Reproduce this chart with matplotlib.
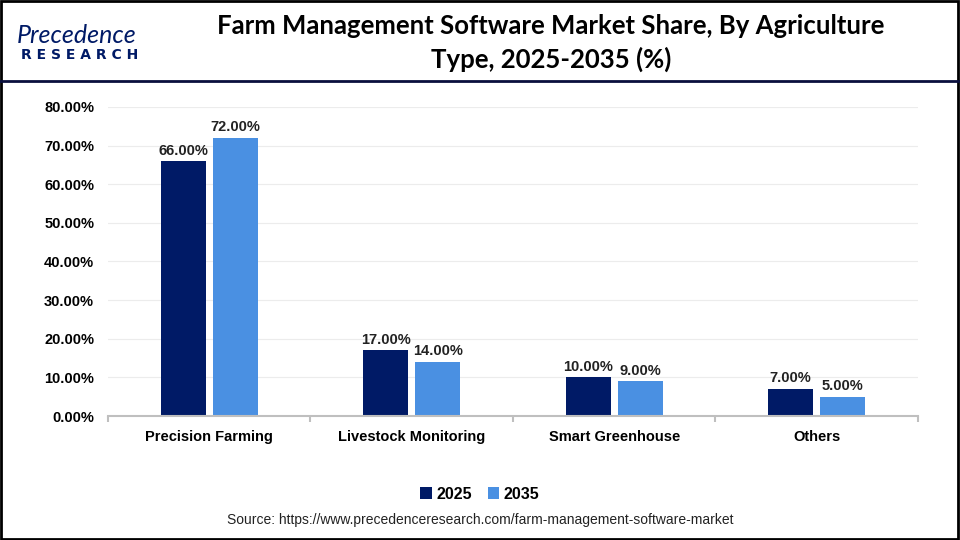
import numpy as np
import matplotlib.pyplot as plt
from matplotlib.patches import Rectangle
from matplotlib.lines import Line2D

plt.rcParams['font.family'] = ['Liberation Sans', 'DejaVu Sans']

categories = ["Precision Farming", "Livestock Monitoring", "Smart Greenhouse", "Others"]
share_2025 = [66.0, 17.0, 10.0, 7.0]
share_2035 = [72.0, 14.0, 9.0, 5.0]
yticks = [0, 10, 20, 30, 40, 50, 60, 70, 80]

navy = "#001a66"
blue = "#4a90e2"

fig = plt.figure(figsize=(9.6, 5.4), dpi=100)
ax = fig.add_axes([0.1125, 0.2296, 0.8437, 0.5723])

x = np.arange(len(categories))
w = 0.222
gap = 0.035
b1 = ax.bar(x - w/2 - gap/2, share_2025, w, color=navy, label="2025")
b2 = ax.bar(x + w/2 + gap/2, share_2035, w, color=blue, label="2035")

for bars, vals in ((b1, share_2025), (b2, share_2035)):
    for r, v in zip(bars, vals):
        ax.text(r.get_x() + r.get_width()/2, v + 0.9, f"{v:.2f}%", ha="center", va="bottom",
                fontsize=10.5, fontweight="bold", color="#222222")

ax.set_xlim(-0.5, len(categories) - 0.5)
ax.set_ylim(0, 80)
ax.set_yticks(yticks)
ax.set_yticklabels([f"{t:.2f}%" for t in yticks], fontsize=10.5, fontweight="bold")
ax.set_xticks(x)
ax.set_xticklabels(categories, fontsize=10.5, fontweight="bold")
ax.set_xticks(np.arange(-0.5, len(categories)), minor=True)
ax.tick_params(axis="x", which="major", length=0, pad=10)
ax.tick_params(axis="x", which="minor", length=4, color="#bfbfbf", width=1.5)
ax.tick_params(axis="y", length=0, pad=10)
ax.grid(axis="y", color="#ececec", linewidth=0.8)
ax.set_axisbelow(True)
for s in ["top", "right", "left"]:
    ax.spines[s].set_visible(False)
ax.spines["bottom"].set_color("#bfbfbf")
ax.spines["bottom"].set_linewidth(1.5)

fig.legend(handles=[b1, b2], loc="center", bbox_to_anchor=(0.5, 0.085), ncol=2, frameon=False,
           prop={"weight": "bold", "size": 11.5}, handlelength=0.7, handleheight=0.7,
           handletextpad=0.3, columnspacing=1.0)

fig.text(0.5, 0.037, "Source: https://www.precedenceresearch.com/farm-management-software-market",
         ha="center", va="center", fontsize=10, color="#222222")

fig.text(0.574, 0.92, "Farm Management Software Market Share, By Agriculture\nType, 2025-2035 (%)",
         ha="center", va="center", fontsize=18.5, fontweight="bold", family="Lato",
         linespacing=1.4, color="#000000")

fig.text(0.018, 0.935, "Precedence", ha="left", va="center", fontsize=18, color=navy,
         family="Lato", style="italic")
fig.text(0.022, 0.898, "R E S E A R C H", ha="left", va="center", fontsize=10, color=navy,
         fontweight="bold", family="DejaVu Sans")

fig.add_artist(Line2D([0, 1], [1 - 81/540, 1 - 81/540], color="#0a0f3d", linewidth=2,
                      transform=fig.transFigure))
fig.add_artist(Rectangle((0.001, 0.002), 0.997, 0.996, fill=False, edgecolor="black",
                         linewidth=2, transform=fig.transFigure))

fig.savefig("out.png", dpi=100)
